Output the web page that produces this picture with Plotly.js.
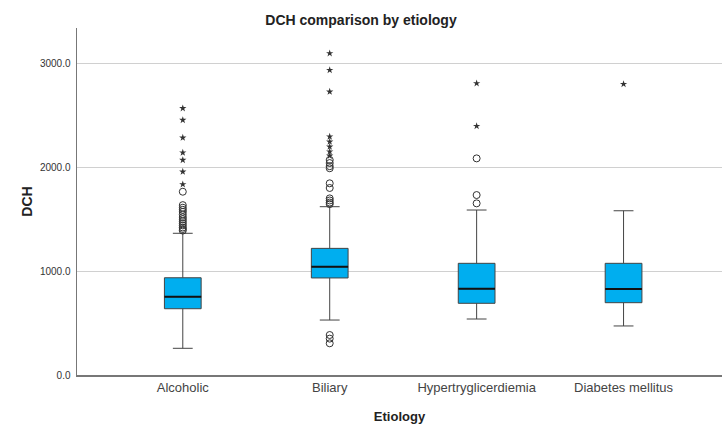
<!DOCTYPE html>
<html>
<head>
<meta charset="utf-8">
<script src="https://cdn.plot.ly/plotly-3.0.1.min.js"></script>
<style>html,body{margin:0;padding:0;background:#fff;}#chart{width:722px;height:424px;}</style>
</head>
<body>
<div id="chart"></div>
<script>
const categories = ["Alcoholic", "Biliary", "Hypertryglicerdiemia", "Diabetes mellitus"];
const q1 = [638, 934, 690, 696];
const median = [754, 1042, 830, 828];
const q3 = [936, 1219, 1075, 1075];
const lowerWhisker = [257, 529, 539, 472];
const upperWhisker = [1364, 1620, 1588, 1581];
const outliersCircle = [
  [1390, 1405, 1420, 1440, 1460, 1480, 1500, 1520, 1545, 1570, 1590, 1610, 1635, 1764],
  [305, 350, 385, 1645, 1660, 1680, 1700, 1800, 1845, 1990, 2010, 2040, 2070],
  [1652, 1732, 2085],
  []
];
const outliersStar = [
  [1835, 1957, 2069, 2140, 2284, 2454, 2567],
  [2110, 2150, 2197, 2245, 2294, 2727, 2935, 3096],
  [2396, 2807],
  [2800]
];

const boxWidth = 0.25;
const traces = [{
  type: 'box',
  x: categories,
  q1: q1, median: median, q3: q3,
  lowerfence: lowerWhisker, upperfence: upperWhisker,
  boxpoints: false,
  width: boxWidth,
  whiskerwidth: 0.54,
  fillcolor: '#00AEEF',
  line: {color: '#444', width: 1},
  showlegend: false,
  hoverinfo: 'y'
}];
const cx = [], cy = [], sx = [], sy = [];
categories.forEach((c, i) => {
  outliersCircle[i].forEach(v => { cx.push(c); cy.push(v); });
  outliersStar[i].forEach(v => { sx.push(c); sy.push(v); });
});
traces.push({
  type: 'scatter', mode: 'markers', x: cx, y: cy, showlegend: false,
  marker: {symbol: 'circle-open', size: 7, color: '#333', line: {width: 1, color: '#333'}}
});
traces.push({
  type: 'scatter', mode: 'markers', x: sx, y: sy, showlegend: false,
  marker: {symbol: 'star', size: 5.5, color: '#333', line: {width: 0}}
});

const shapes = median.map((m, i) => ({
  type: 'line', xref: 'x', yref: 'y',
  x0: i - boxWidth / 2, x1: i + boxWidth / 2, y0: m, y1: m,
  line: {color: '#111', width: 2}
}));

const layout = {
  width: 722, height: 424,
  margin: {l: 77, r: 0, t: 28, b: 49},
  paper_bgcolor: '#fff', plot_bgcolor: '#fff',
  font: {family: 'Liberation Sans, Arial, sans-serif', color: '#333'},
  title: {text: 'DCH comparison by etiology', x: 0.5, xanchor: 'center', y: 0.952, yanchor: 'middle',
          font: {size: 14, color: '#222', weight: 'bold'}},
  xaxis: {
    type: 'category', categoryorder: 'array', categoryarray: categories,
    range: [-0.72, 3.67], showgrid: false, zeroline: false,
    showline: true, linecolor: '#777', linewidth: 1.5,
    ticks: '', tickfont: {size: 13, color: '#444'},
    title: {text: 'Etiology', font: {size: 13, color: '#222', weight: 'bold'}, standoff: 18}
  },
  yaxis: {
    range: [0, 3340], tickvals: [0, 1000, 2000, 3000], tickformat: '.1f',
    showgrid: true, gridcolor: '#d0d0d0', gridwidth: 1, zeroline: false,
    showline: true, linecolor: '#777', linewidth: 1.5,
    ticks: '', ticklabelstandoff: 3, tickfont: {size: 10, color: '#333'},
    title: {text: 'DCH', font: {size: 14, color: '#222', weight: 'bold'}, standoff: 4}
  },
  shapes: shapes
};
Plotly.newPlot('chart', traces, layout, {displayModeBar: false, staticPlot: true});
</script>
</body>
</html>
